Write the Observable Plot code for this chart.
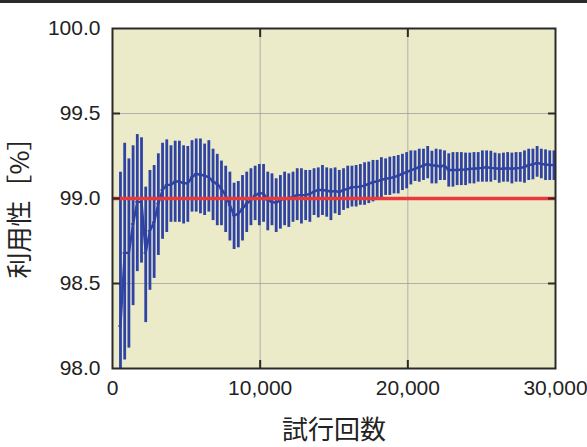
<!DOCTYPE html>
<html><head><meta charset="utf-8">
<script src="https://cdn.jsdelivr.net/npm/d3@7"></script>
<script src="https://cdn.jsdelivr.net/npm/@observablehq/plot@0.6"></script>
<style>
html,body{margin:0;padding:0;background:#fff;}
#topbar{width:587px;height:3px;background:#2a2a2a;}
svg{display:block;}
</style></head><body>
<div id="topbar"></div>
<div id="chart"></div>
<script>
// trial counts (x) of each plotted point
const trials = [540, 825, 1110, 1395, 1680, 1965, 2250, 2535, 2820, 3105,
  3390, 3675, 3960, 4245, 4530, 4815, 5100, 5385, 5670, 5955,
  6240, 6525, 6810, 7095, 7380, 7665, 7950, 8235, 8520, 8805,
  9090, 9375, 9660, 9945, 10230, 10515, 10800, 11085, 11370, 11655,
  11940, 12225, 12510, 12795, 13080, 13365, 13650, 13935, 14220, 14505,
  14790, 15075, 15360, 15645, 15930, 16215, 16500, 16785, 17070, 17355,
  17640, 17925, 18210, 18495, 18780, 19065, 19350, 19635, 19920, 20205,
  20490, 20775, 21060, 21345, 21630, 21915, 22200, 22485, 22770, 23055,
  23340, 23625, 23910, 24195, 24480, 24765, 25050, 25335, 25620, 25905,
  26190, 26475, 26760, 27045, 27330, 27615, 27900, 28185, 28470, 28755,
  29040, 29325, 29610, 29895];
// mean availability [%]
const meanValues = [98.25, 98.68, 98.68, 98.85, 98.98, 98.98, 98.68, 98.81, 98.86, 98.97,
  99.05, 99.08, 99.08, 99.10, 99.10, 99.09, 99.09, 99.125, 99.145, 99.14,
  99.135, 99.125, 99.10, 99.086, 99.057, 99.018, 98.96, 98.90, 98.91, 98.94,
  98.97, 98.99, 99.018, 99.03, 99.03, 98.99, 98.98, 98.975, 98.99, 99.0,
  99.0, 99.01, 99.02, 99.02, 99.02, 99.027, 99.04, 99.05, 99.05, 99.047,
  99.04, 99.045, 99.037, 99.05, 99.057, 99.067, 99.067, 99.07, 99.076, 99.086,
  99.096, 99.10, 99.11, 99.116, 99.12, 99.125, 99.135, 99.145, 99.155, 99.165,
  99.175, 99.184, 99.194, 99.204, 99.194, 99.194, 99.188, 99.194, 99.168, 99.168,
  99.168, 99.17, 99.17, 99.175, 99.175, 99.178, 99.18, 99.184, 99.18, 99.178,
  99.175, 99.175, 99.178, 99.175, 99.178, 99.18, 99.184, 99.198, 99.2, 99.21,
  99.204, 99.2, 99.198, 99.196];
// upper end of error bar
const upperValues = [99.155, 99.325, 99.233, 99.31, 99.376, 99.357, 99.067, 99.165, 99.194, 99.263,
  99.325, 99.345, 99.31, 99.337, 99.337, 99.31, 99.306, 99.34, 99.35, 99.35,
  99.32, 99.34, 99.29, 99.26, 99.22, 99.19, 99.155, 99.09, 99.10, 99.135,
  99.155, 99.175, 99.19, 99.20, 99.20, 99.155, 99.145, 99.116, 99.135, 99.155,
  99.145, 99.155, 99.175, 99.175, 99.165, 99.165, 99.175, 99.18, 99.194, 99.18,
  99.175, 99.18, 99.165, 99.175, 99.19, 99.19, 99.194, 99.20, 99.21, 99.214,
  99.224, 99.224, 99.24, 99.233, 99.243, 99.247, 99.253, 99.26, 99.27, 99.28,
  99.28, 99.29, 99.29, 99.306, 99.278, 99.29, 99.286, 99.28, 99.263, 99.27,
  99.27, 99.27, 99.267, 99.267, 99.27, 99.27, 99.28, 99.28, 99.278, 99.267,
  99.263, 99.267, 99.27, 99.267, 99.27, 99.27, 99.28, 99.29, 99.29, 99.306,
  99.29, 99.286, 99.28, 99.28];
// lower end of error bar
const lowerValues = [97.35, 98.05, 98.12, 98.37, 98.57, 98.62, 98.27, 98.46, 98.53, 98.665,
  98.76, 98.80, 98.86, 98.86, 98.86, 98.85, 98.86, 98.92, 98.92, 98.91,
  98.90, 98.92, 98.87, 98.84, 98.84, 98.80, 98.75, 98.70, 98.71, 98.75,
  98.80, 98.84, 98.87, 98.84, 98.86, 98.81, 98.84, 98.80, 98.82, 98.84,
  98.83, 98.86, 98.87, 98.85, 98.87, 98.86, 98.90, 98.886, 98.90, 98.89,
  98.87, 98.91, 98.90, 98.93, 98.94, 98.95, 98.95, 98.96, 98.96, 98.97,
  98.98, 98.99, 99.0, 99.018, 99.018, 99.027, 99.027, 99.047, 99.057, 99.08,
  99.10, 99.096, 99.106, 99.116, 99.086, 99.086, 99.106, 99.106, 99.067, 99.067,
  99.076, 99.076, 99.076, 99.086, 99.086, 99.096, 99.096, 99.096, 99.096, 99.106,
  99.09, 99.096, 99.096, 99.086, 99.096, 99.096, 99.09, 99.106, 99.11, 99.125,
  99.116, 99.106, 99.106, 99.106];
const targetValue = [99.0];
const xTicks = [0, 10000, 20000, 30000];
const yTicks = [98.0, 98.5, 99.0, 99.5, 100.0];
const xInner = [10000, 20000];
const yInner = [98.5, 99.0, 99.5];
const xLabel = "試行回数";
const yLabel = "利用性［%］";

const data = trials.map((t, i) => ({t, m: meanValues[i], hi: upperValues[i], lo: lowerValues[i]}));

const blue = "#2f43a4";
const numFont = "'Liberation Sans', Arial, sans-serif";
const cjkFont = "'Noto Sans CJK JP', sans-serif";

const chart = Plot.plot({
  width: 587, height: 444,
  marginLeft: 112, marginRight: 32, marginTop: 25, marginBottom: 79,
  x: {domain: [0, 30000]},
  y: {domain: [98, 100]},
  style: {fontFamily: numFont, fontSize: "21px", color: "#222", background: "transparent", overflow: "visible"},
  marks: [
    Plot.frame({fill: "#ecebc9"}),
    Plot.gridX(xInner, {stroke: "#a0a0a0", strokeOpacity: 0.8, strokeWidth: 1}),
    Plot.gridY(yInner, {stroke: "#a0a0a0", strokeOpacity: 0.8, strokeWidth: 1}),
    Plot.ruleX(data, {x: "t", y1: "lo", y2: "hi", stroke: blue, strokeWidth: 2.8, clip: true}),
    Plot.line(data, {x: "t", y: "m", stroke: blue, strokeWidth: 2.4, clip: true}),
    Plot.ruleY(data, {y: "m", x1: d => d.t - 110, x2: d => d.t + 110, stroke: blue, strokeWidth: 1.6, clip: true}),
    Plot.ruleY(targetValue, {stroke: "#e8393c", strokeWidth: 3.5}),
    Plot.frame({stroke: "#2a2a2a", strokeWidth: 2}),
    Plot.axisY(yInner, {anchor: "left", tickSize: 8, dx: 8, text: null, stroke: "#2a2a2a", strokeWidth: 2, label: null}),
    Plot.axisY(yInner, {anchor: "right", tickSize: 8, dx: -8, text: null, stroke: "#2a2a2a", strokeWidth: 2, label: null}),
    Plot.axisX(xInner, {anchor: "bottom", tickSize: 8, dy: -8, text: null, stroke: "#2a2a2a", strokeWidth: 2, label: null}),
    Plot.axisX(xInner, {anchor: "top", tickSize: 8, dy: 8, text: null, stroke: "#2a2a2a", strokeWidth: 2, label: null}),
    Plot.axisY(yTicks, {anchor: "left", tickSize: 0, tickPadding: 12, tickFormat: d3.format(".1f"), fontSize: 21, label: null, fill: "#222"}),
    Plot.axisX(xTicks, {anchor: "bottom", tickSize: 0, tickPadding: 12, tickFormat: d3.format(","), fontSize: 21, label: null, fill: "#222"}),
    Plot.text([xLabel], {frameAnchor: "bottom", dy: 70, textAnchor: "middle", text: d => d, fontSize: 26, fontFamily: cjkFont, fill: "#222"}),
    Plot.text([yLabel], {frameAnchor: "left", dx: -92, dy: 3, rotate: -90, textAnchor: "middle", text: d => d, fontSize: 26, fontFamily: cjkFont, fill: "#222"})
  ]
});
document.getElementById("chart").appendChild(chart);
</script>
</body></html>
